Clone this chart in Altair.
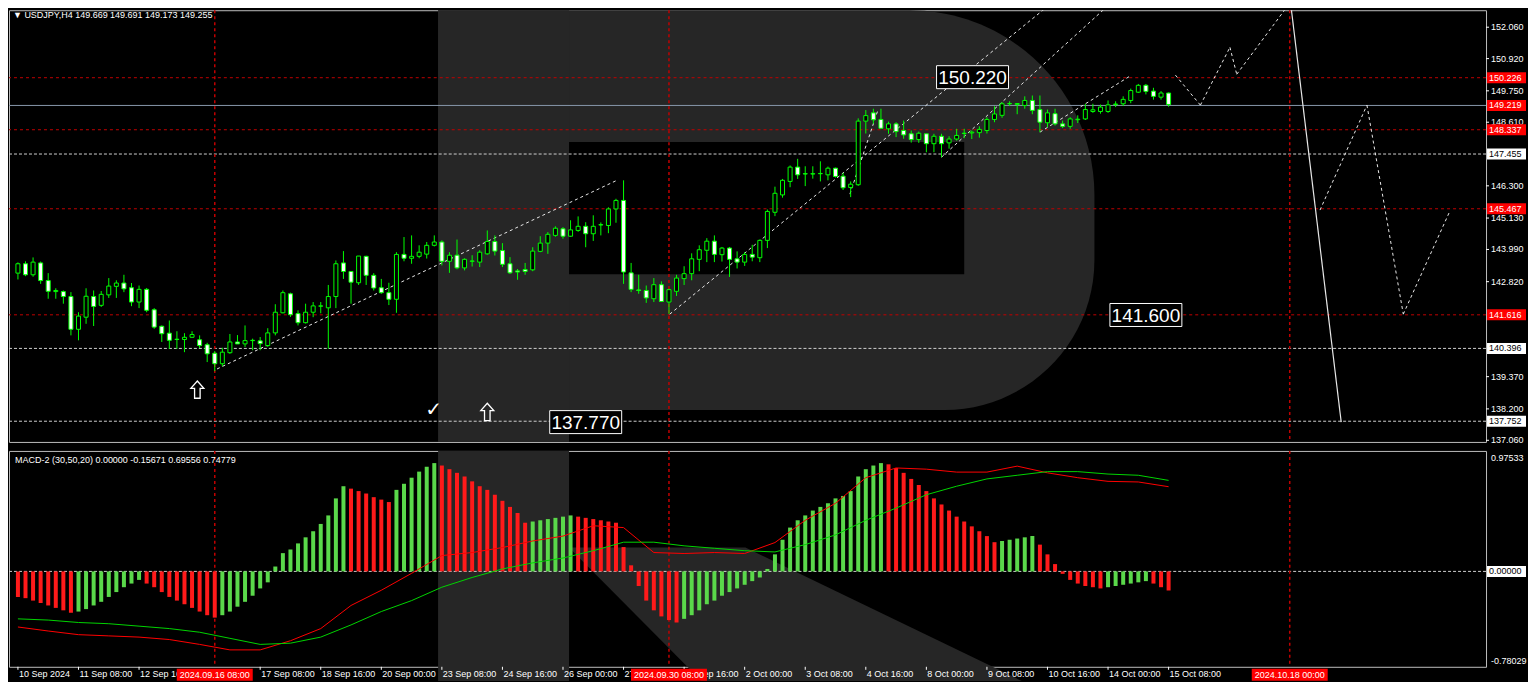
import altair as alt
import pandas as pd

# ---------------- data ----------------
opens = [143.13,143.47,143.07,143.50,142.86,142.46,142.46,142.28,141.09,141.53,
142.28,141.96,142.34,142.65,142.77,142.60,142.08,142.54,141.80,141.20,
140.95,140.73,140.72,140.80,140.71,140.53,140.22,139.84,140.24,140.63,
140.56,140.68,140.67,140.50,140.96,141.69,142.38,141.66,141.33,141.71,
141.93,141.87,142.28,143.50,143.19,142.78,143.74,143.05,142.60,142.42,
142.18,143.81,143.67,143.74,143.82,144.14,144.26,143.56,143.78,143.32,
143.56,143.53,143.83,144.28,143.95,143.47,143.21,143.26,143.25,143.92,
144.22,144.50,144.74,144.47,144.68,144.83,144.56,144.88,144.86,145.46,
145.77,143.14,142.52,142.50,142.20,142.71,142.08,142.47,142.93,143.11,
143.63,143.96,144.29,143.80,144.04,143.65,143.53,143.81,143.69,144.32,
145.34,145.97,146.46,146.98,146.74,146.73,146.74,146.70,146.94,146.65,
146.24,146.34,148.65,148.95,148.71,148.37,148.55,148.31,148.19,147.98,
148.19,147.83,148.10,147.86,148.00,148.20,148.22,148.23,148.31,148.71,
148.86,149.28,149.25,149.22,149.40,149.07,148.59,148.92,148.55,148.46,
148.70,148.73,149.00,149.00,149.00,149.25,149.28,149.40,149.70,149.95,
149.74,149.52,149.669]
highs = [143.52,143.56,143.70,143.55,143.13,142.58,142.50,142.44,141.71,142.58,
142.50,142.48,142.95,142.87,143.07,142.77,142.68,142.59,141.86,141.23,
141.41,141.02,140.95,141.02,140.87,140.60,140.30,140.42,140.92,140.88,
141.23,140.75,140.81,141.13,142.00,142.50,142.42,141.78,142.02,142.08,
142.08,142.70,143.59,143.93,143.20,143.75,143.76,143.13,142.92,142.78,
143.89,144.44,144.50,144.14,144.26,144.50,144.32,143.89,144.35,143.67,
143.78,143.96,144.68,144.50,144.22,143.71,143.28,143.50,144.07,144.47,
144.62,144.83,144.80,145.05,145.19,144.98,145.23,144.97,145.52,145.83,
146.50,143.50,143.07,142.68,142.95,142.83,142.56,143.07,143.38,143.85,
144.14,144.40,144.50,144.08,144.08,143.92,143.89,144.16,144.35,145.44,
146.27,146.55,147.04,147.28,147.01,147.01,147.19,147.00,146.96,146.77,
146.46,148.75,149.05,149.10,149.10,148.63,148.61,148.67,148.31,148.27,
148.19,148.19,148.19,148.10,148.37,148.37,148.31,148.46,148.79,149.19,
149.34,149.37,149.29,149.55,149.58,149.58,149.07,149.10,148.67,148.79,
148.86,149.28,149.28,149.25,149.40,149.37,149.55,149.83,150.00,150.00,
149.86,149.74,149.691]
lows = [142.90,143.02,143.00,142.74,142.20,142.20,142.02,140.87,140.69,141.29,
141.21,141.90,142.23,142.23,142.44,141.93,141.86,141.71,141.11,140.63,
140.38,140.38,140.26,140.79,140.41,139.90,139.57,139.75,140.20,140.56,
140.45,140.33,140.33,140.45,140.87,141.67,141.54,141.23,141.30,141.53,
141.67,140.38,141.86,142.92,142.02,142.70,142.70,142.50,142.38,141.97,
141.69,143.56,143.47,143.67,143.66,144.10,143.41,143.14,143.27,143.23,
143.37,143.35,143.80,143.77,143.35,143.10,142.89,143.07,143.20,143.89,
143.83,144.45,144.38,144.45,144.63,144.07,144.30,144.50,144.58,144.96,
142.74,142.44,142.38,142.05,142.08,142.08,141.65,142.30,142.70,142.87,
143.20,143.53,143.53,143.55,142.99,143.30,143.39,143.56,143.53,144.04,
145.20,145.87,146.25,146.55,146.29,146.56,146.46,146.50,146.60,146.15,
145.89,146.30,148.20,148.55,148.37,148.19,148.07,148.01,147.87,147.86,
147.52,147.52,147.34,147.65,147.94,148.03,148.00,148.05,148.20,148.61,
148.77,149.20,148.90,149.10,148.90,148.25,148.43,148.49,148.40,148.37,
148.58,148.69,148.95,148.92,148.95,149.16,149.20,149.30,149.67,149.62,
149.43,149.43,149.173]
closes = [143.47,143.07,143.53,142.86,142.47,142.50,142.28,141.09,141.57,142.29,
141.92,142.36,142.66,142.77,142.56,142.08,142.54,141.78,141.17,140.93,
140.69,140.72,140.80,140.90,140.50,140.20,139.84,140.26,140.63,140.56,
140.68,140.69,140.57,140.96,141.71,142.42,141.62,141.33,141.71,141.94,
141.94,142.28,143.47,143.19,142.80,143.75,143.05,142.59,142.42,142.18,
143.81,143.67,143.74,143.89,144.14,144.26,143.56,143.78,143.32,143.63,
143.57,143.89,144.28,143.93,143.45,143.14,143.17,143.19,143.93,144.22,
144.54,144.76,144.47,144.70,144.83,144.56,144.83,144.89,145.46,145.77,
143.17,142.54,142.50,142.23,142.71,142.10,142.53,142.95,143.11,143.65,
143.98,144.29,143.81,144.04,143.63,143.53,143.81,143.71,144.32,145.37,
146.03,146.50,146.98,146.70,146.73,146.74,146.75,146.94,146.64,146.23,
146.36,148.65,148.85,148.70,148.39,148.55,148.27,148.15,147.98,148.21,
147.83,148.10,147.83,148.00,148.13,148.21,148.25,148.35,148.71,148.91,
149.28,149.29,149.29,149.40,149.04,148.61,148.95,148.55,148.46,148.73,
148.72,149.07,149.06,149.16,149.24,149.27,149.44,149.76,149.95,149.73,
149.55,149.67,149.255]

hist = [-0.21,-0.22,-0.24,-0.26,-0.28,-0.30,-0.32,-0.34,-0.33,-0.31,
-0.28,-0.25,-0.21,-0.17,-0.13,-0.10,-0.07,-0.10,-0.13,-0.17,
-0.21,-0.24,-0.27,-0.30,-0.33,-0.36,-0.38,-0.36,-0.33,-0.29,
-0.25,-0.20,-0.14,-0.09,0.04,0.15,0.18,0.23,0.28,0.33,
0.39,0.46,0.60,0.70,0.68,0.66,0.64,0.61,0.59,0.57,
0.67,0.72,0.77,0.82,0.86,0.89,0.87,0.84,0.81,0.78,
0.74,0.70,0.67,0.63,0.58,0.53,0.48,0.40,0.41,0.42,
0.43,0.44,0.45,0.46,0.45,0.44,0.43,0.42,0.41,0.40,
0.20,0.05,-0.12,-0.24,-0.32,-0.37,-0.40,-0.42,-0.39,-0.36,
-0.32,-0.27,-0.24,-0.20,-0.17,-0.14,-0.11,-0.08,-0.05,0.02,
0.14,0.26,0.36,0.42,0.46,0.50,0.53,0.56,0.60,0.62,
0.66,0.78,0.84,0.87,0.89,0.88,0.85,0.81,0.76,0.71,
0.66,0.60,0.55,0.50,0.45,0.41,0.37,0.33,0.29,0.24,
0.25,0.26,0.27,0.28,0.29,0.22,0.14,0.06,-0.02,-0.07,
-0.10,-0.12,-0.13,-0.14,-0.13,-0.12,-0.11,-0.10,-0.09,-0.08,
-0.10,-0.13,-0.157]

line_idx = list(range(0, 153, 4))
macd_red = [-0.457,-0.49,-0.52,-0.53,-0.54,-0.56,-0.60,-0.645,-0.645,-0.57,
-0.47,-0.28,-0.155,-0.016,0.13,0.155,0.196,0.25,0.29,0.375,
0.36,0.155,0.147,0.155,0.147,0.237,0.42,0.56,0.77,0.85,
0.84,0.816,0.816,0.865,0.81,0.77,0.74,0.735,0.696]
macd_green = [-0.39,-0.40,-0.42,-0.43,-0.45,-0.47,-0.50,-0.55,-0.60,-0.59,
-0.54,-0.44,-0.33,-0.24,-0.13,-0.05,0.02,0.07,0.11,0.17,
0.24,0.24,0.21,0.19,0.17,0.16,0.22,0.30,0.42,0.52,
0.63,0.70,0.76,0.79,0.82,0.82,0.80,0.79,0.748]

tick_idx = [0, 8, 16, 32, 40, 48, 56, 64, 72, 80, 88, 96, 104, 112, 120, 128, 136, 144, 152]
tick_labels = ["10 Sep 2024", "11 Sep 08:00", "12 Sep 16:00", "17 Sep 08:00",
               "18 Sep 16:00", "20 Sep 00:00", "23 Sep 08:00", "24 Sep 16:00", "26 Sep 00:00",
               "27 Sep 08:00", "30 Sep 16:00", "2 Oct 00:00", "3 Oct 08:00", "4 Oct 16:00",
               "8 Oct 00:00", "9 Oct 08:00", "10 Oct 16:00", "14 Oct 00:00", "15 Oct 08:00"]
price_ticks = [152.060, 150.920, 149.750, 148.610, 146.300, 145.130, 143.990, 142.820,
               139.370, 138.200, 137.060]
red_levels = [150.226, 148.337, 145.467, 141.616]
gray_levels = [147.455, 140.396, 137.752]
current_price = 149.219
vline_idx = [26, 86, 168]
vline_labels = ["2024.09.16 08:00", "2024.09.30 08:00", "2024.10.18 00:00"]

# drawn trend / forecast lines (bar index, price)
seg_i1 = [26.3, 86.1, 122.0, 135.0, 109.9, 152.9, 156.2, 160.1, 161.0, 172.0, 178.2, 183.0]
seg_p1 = [139.65, 141.64, 147.34, 148.25, 146.00, 150.32, 149.23, 151.33, 150.35, 145.42, 149.23, 141.64]
seg_i2 = [79.2, 136.7, 144.5, 147.1, 113.6, 156.2, 160.1, 161.0, 168.1, 178.2, 183.0, 189.1]
seg_p2 = [146.51, 152.97, 152.97, 150.32, 149.05, 149.23, 151.33, 150.35, 152.97, 149.23, 141.64, 145.35]
solid_i = [168.1, 174.8]
solid_p = [152.97, 137.72]

box_i = [126.1, 149.0, 75.0]
box_p = [150.245, 141.61, 137.72]
box_txt = ["150.220", "141.600", "137.770"]

arrow_i = [23.7, 62.0]
arrow_p = [138.9, 138.09]
check_i = [54.9]
check_p = [138.16]

# watermark "R" (bar index / price / macd units)
bowl_i = [55.5, 142.2]
bowl_p = [152.677, 138.16]
stem_i = [55.5, 72.8]
counter_i = [72.8, 125.0]
counter_p = [147.89, 143.09]
leg_v = [0.196, -0.90]
leg_a = [72.8, 90.3]
leg_b = [96.1, 132.6]

header = "\u25bc USDJPY,H4  149.669 149.691 149.173 149.255"
macd_header = "MACD-2 (30,50,20) 0.00000 -0.15671 0.69556 0.74779"

# ---------------- build ----------------
W, H1, H2 = 1478, 432, 216
FONT = "Liberation Sans"
FS = 9
GRAY = "#262626"
LIME = "#00ff00"
RED_DOT = "#c00000"
PMIN, PMAX = 137.0, 152.677
MMIN, MMAX = -0.784, 0.99
ARROW = "M0,-1L0.75,-0.15L0.32,-0.15L0.32,1L-0.32,1L-0.32,-0.15L-0.75,-0.15Z"

xs = alt.Scale(domain=[-0.52, 193.27], nice=False, zero=False)
ys = alt.Scale(domain=[PMIN, PMAX], nice=False, zero=False)
ms = alt.Scale(domain=[MMIN, MMAX], nice=False, zero=False)

n = len(opens)
df = pd.DataFrame({"i": list(range(n)), "o": opens, "h": highs, "l": lows, "c": closes})
df["dir"] = ["up" if c >= o else "down" for o, c in zip(opens, closes)]

hd = pd.DataFrame({"i": list(range(n)), "v": hist})
hd["dir"] = ["down" if k == 0 or hist[k] < hist[k - 1] else "up" for k in range(n)]

ld = pd.DataFrame({"i": line_idx, "red": macd_red, "green": macd_green})


def X(f):
    return alt.X(f, type="quantitative", scale=xs, axis=None, title=None)


def Y(f):
    return alt.Y(f, type="quantitative", scale=ys, axis=None, title=None)


def M(f):
    return alt.Y(f, type="quantitative", scale=ms, axis=None, title=None)


def rect_df(a, b, t, u):
    return pd.DataFrame({"a": [a], "b": [b], "t": [t], "u": [u]})


# ---- price panel ----
bowl = alt.Chart(rect_df(bowl_i[0], bowl_i[1], bowl_p[0], bowl_p[1])).mark_rect(
    color=GRAY, cornerRadiusTopRight=185, cornerRadiusBottomRight=150
).encode(x=X("a"), x2="b", y=Y("t"), y2="u")
stem_p = alt.Chart(rect_df(stem_i[0], stem_i[1], bowl_p[0], PMIN)).mark_rect(
    color=GRAY).encode(x=X("a"), x2="b", y=Y("t"), y2="u")
counter = alt.Chart(rect_df(counter_i[0], counter_i[1], counter_p[0], counter_p[1])).mark_rect(
    color="black").encode(x=X("a"), x2="b", y=Y("t"), y2="u")

red_lv = alt.Chart(pd.DataFrame({"p": red_levels})).mark_rule(
    color=RED_DOT, strokeDash=[3, 3], strokeWidth=1).encode(y=Y("p"))
gray_lv = alt.Chart(pd.DataFrame({"p": gray_levels})).mark_rule(
    color="#cfcfcf", strokeDash=[3, 2], strokeWidth=1).encode(y=Y("p"))
cur_lv = alt.Chart(pd.DataFrame({"p": [current_price]})).mark_rule(
    color="#8797aa", strokeWidth=1).encode(y=Y("p"))
vl_p = alt.Chart(pd.DataFrame({"i": vline_idx})).mark_rule(
    color=RED_DOT, strokeDash=[3, 3], strokeWidth=1.5).encode(x=X("i"))

segs = alt.Chart(pd.DataFrame({"a": seg_i1, "b": seg_i2, "t": seg_p1, "u": seg_p2})).mark_rule(
    color="#e8e8e8", strokeDash=[3, 3], strokeWidth=1, clip=True
).encode(x=X("a"), x2="b", y=Y("t"), y2="u")
solid = alt.Chart(rect_df(solid_i[0], solid_i[1], solid_p[0], solid_p[1])).mark_rule(
    color="#e8e8e8", strokeWidth=1.2, clip=True
).encode(x=X("a"), x2="b", y=Y("t"), y2="u")

wicks = alt.Chart(df).mark_rule(color=LIME, strokeWidth=1).encode(x=X("i"), y=Y("l"), y2="h:Q")
bodies = alt.Chart(df).mark_bar(width=4, stroke=LIME, strokeWidth=1).encode(
    x=X("i"), y=Y("o"), y2="c:Q",
    fill=alt.Fill("dir:N", scale=alt.Scale(domain=["up", "down"], range=["black", "white"]), legend=None))

bx = pd.DataFrame({"i": box_i, "p": box_p, "t": box_txt})
box_r = alt.Chart(bx).mark_tick(orient="horizontal", thickness=23, size=72, fill="black",
                                stroke="white", strokeWidth=1, opacity=1).encode(x=X("i"), y=Y("p"))
box_t = alt.Chart(bx).mark_text(color="white", font=FONT, fontSize=19, align="center",
                                baseline="middle", dy=1).encode(x=X("i"), y=Y("p"), text="t:N")

arrows = alt.Chart(pd.DataFrame({"i": arrow_i, "p": arrow_p})).mark_point(
    shape=ARROW, size=300, filled=False, stroke="white", strokeWidth=1.3, opacity=1
).encode(x=X("i"), y=Y("p"))
check = alt.Chart(pd.DataFrame({"i": check_i, "p": check_p, "t": ["\u2713"]})).mark_text(
    color="white", font="DejaVu Sans", fontSize=20, align="center", baseline="middle"
).encode(x=X("i"), y=Y("p"), text="t:N")

title_t = alt.Chart(pd.DataFrame({"t": [header]})).mark_text(
    color="white", font=FONT, fontSize=FS, align="left", baseline="middle"
).encode(x=alt.value(4), y=alt.value(5), text="t:N")

# right price scale (ticks + labels)
pt = pd.DataFrame({"p": price_ticks, "t": [f"{p:.3f}" for p in price_ticks]})
pticks = alt.Chart(pt).mark_rule(color="white").encode(
    x=alt.value(W), x2=alt.value(W + 3), y=Y("p"))
plabels = alt.Chart(pt).mark_text(color="white", font=FONT, fontSize=FS, align="left",
                                  baseline="middle").encode(x=alt.value(W + 5), y=Y("p"), text="t:N")

lvl = pd.DataFrame({"p": red_levels + [current_price] + gray_levels,
                    "k": ["r"] * 5 + ["w"] * 3})
lvl["t"] = [f"{p:.3f}" for p in lvl["p"]]
lvl_box = alt.Chart(lvl).mark_tick(orient="horizontal", thickness=11, size=39, opacity=1).encode(
    x=alt.value(W + 20.5), y=Y("p"),
    color=alt.Color("k:N", scale=alt.Scale(domain=["r", "w"], range=["#ff0000", "white"]), legend=None))
lvl_txt = alt.Chart(lvl).mark_text(font=FONT, fontSize=FS, align="left", baseline="middle").encode(
    x=alt.value(W + 3), y=Y("p"), text="t:N",
    color=alt.Color("k:N", scale=alt.Scale(domain=["r", "w"], range=["white", "black"]), legend=None))

price = alt.layer(bowl, stem_p, counter, red_lv, gray_lv, cur_lv, vl_p, segs, solid,
                  wicks, bodies, box_r, box_t, arrows, check, title_t, pticks, plabels, lvl_box, lvl_txt
                  ).resolve_scale(color="independent").properties(width=W, height=H1)

# ---- MACD panel ----
stem_m = alt.Chart(rect_df(stem_i[0], stem_i[1], MMAX, -0.90)).mark_rect(
    color=GRAY).encode(x=X("a"), x2="b", y=M("t"), y2="u")
leg = alt.Chart(pd.DataFrame({"v": leg_v, "a": leg_a, "b": leg_b})).mark_area(
    color=GRAY, orient="horizontal").encode(y=M("v"), x=X("a"), x2="b")
zero = alt.Chart(pd.DataFrame({"v": [0.0]})).mark_rule(
    color="#cfcfcf", strokeDash=[3, 2]).encode(y=M("v"))
vl_m = alt.Chart(pd.DataFrame({"i": vline_idx})).mark_rule(
    color=RED_DOT, strokeDash=[3, 3], strokeWidth=1.5).encode(x=X("i"))
bars = alt.Chart(hd).mark_bar(width=4).encode(
    x=X("i"), y=M("v"), y2=alt.datum(0),
    color=alt.Color("dir:N", scale=alt.Scale(domain=["up", "down"], range=["#5ad84a", "#ff1a1a"]), legend=None))
red_line = alt.Chart(ld).mark_line(color="#ff0000", strokeWidth=1).encode(x=X("i"), y=M("red"))
green_line = alt.Chart(ld).mark_line(color="#00d400", strokeWidth=1).encode(x=X("i"), y=M("green"))
mh = alt.Chart(pd.DataFrame({"t": [macd_header]})).mark_text(
    color="white", font=FONT, fontSize=FS, align="left", baseline="middle"
).encode(x=alt.value(6), y=alt.value(9), text="t:N")

mlab = pd.DataFrame({"v": [0.97533, -0.78029], "t": ["0.97533", "-0.78029"]})
mlab_top = alt.Chart(mlab.iloc[[0]]).mark_text(color="white", font=FONT, fontSize=FS, align="left",
                                              baseline="top", dy=1).encode(
    x=alt.value(W + 5), y=M("v"), text="t:N")
mlab_bot = alt.Chart(mlab.iloc[[1]]).mark_text(color="white", font=FONT, fontSize=FS, align="left",
                                              baseline="bottom").encode(
    x=alt.value(W + 5), y=M("v"), text="t:N")
zbox = alt.Chart(pd.DataFrame({"v": [0.0]})).mark_tick(
    orient="horizontal", thickness=11, size=39, color="white", opacity=1).encode(x=alt.value(W + 20.5), y=M("v"))
ztxt = alt.Chart(pd.DataFrame({"v": [0.0], "t": ["0.00000"]})).mark_text(
    color="black", font=FONT, fontSize=FS, align="left", baseline="middle").encode(
    x=alt.value(W + 3), y=M("v"), text="t:N")

tk = pd.DataFrame({"i": tick_idx, "t": tick_labels})
xticks = alt.Chart(tk).mark_rule(color="white").encode(x=X("i"), y=alt.value(H2), y2=alt.value(H2 + 3))
xlabels = alt.Chart(tk).mark_text(color="white", font=FONT, fontSize=FS, align="left",
                                  baseline="top", dx=1).encode(
    x=X("i"), y=alt.value(H2 + 3), text="t:N")
vd = pd.DataFrame({"i": vline_idx, "t": vline_labels})
vbox = alt.Chart(vd).mark_tick(orient="horizontal", thickness=12, size=76, color="#ff0000", opacity=1).encode(
    x=X("i"), y=alt.value(H2 + 8))
vtxt = alt.Chart(vd).mark_text(color="white", font=FONT, fontSize=FS, align="center",
                               baseline="middle").encode(x=X("i"), y=alt.value(H2 + 8.5), text="t:N")

macd = alt.layer(stem_m, leg, zero, vl_m, bars, red_line, green_line, mh,
                 mlab_top, mlab_bot, zbox, ztxt, xticks, xlabels, vbox, vtxt
                 ).resolve_scale(color="independent").properties(width=W, height=H2)

chart = alt.vconcat(price, macd, spacing=3).properties(
    background="black", padding=0
).configure_view(stroke="#bdbdbd", strokeWidth=1, fill="black")

chart.save("out.html", embed_options={"renderer": "svg", "actions": False})
